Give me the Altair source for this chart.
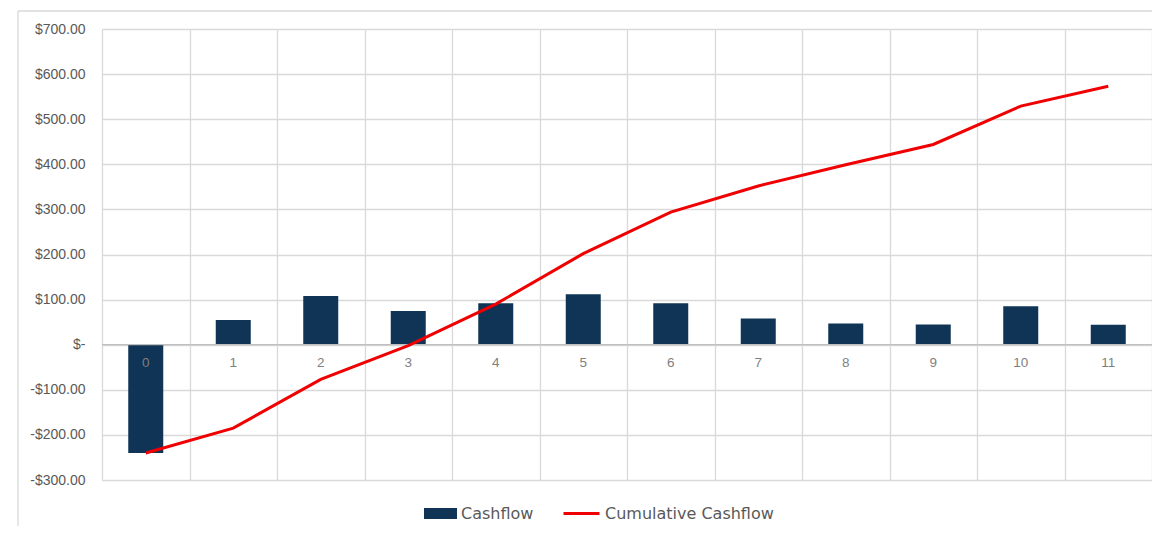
import altair as alt
import pandas as pd

periods = [0, 1, 2, 3, 4, 5, 6, 7, 8, 9, 10, 11]
cashflow = [-240, 55, 108, 75, 92, 112, 92, 58, 47, 45, 85, 44]
cumulative = [-240, -185, -77, -2, 90, 202, 294, 352, 399, 444, 529, 573]
y_ticks = [-300, -200, -100, 0, 100, 200, 300, 400, 500, 600, 700]
x_grid = [-0.5, 0.5, 1.5, 2.5, 3.5, 4.5, 5.5, 6.5, 7.5, 8.5, 9.5, 10.5, 11.5]

df = pd.DataFrame({"period": periods, "cashflow": cashflow, "cumulative": cumulative})
df["label"] = df["period"].astype(str)

GRID = "#d9d9d9"
BAR = "#0f3455"
RED = "#f00000"
TXT = "#595959"

xscale = alt.Scale(domain=[-0.5, 11.5], nice=False, zero=False)
yscale = alt.Scale(domain=[-300, 700], nice=False)

base = alt.Chart(df)

yexpr = ("datum.value == 0 ? '$-\u00a0\u00a0' : (datum.value < 0 ? '-$' + format(abs(datum.value), ',.2f')"
         " : '$' + format(datum.value, ',.2f'))")

bars = base.transform_calculate(
    x0="datum.period - 0.2", x1="datum.period + 0.2", s="'Cashflow'"
).mark_bar(stroke=None).encode(
    x=alt.X("x0:Q", scale=xscale,
            axis=alt.Axis(values=x_grid, labels=False, ticks=False, domain=False,
                          grid=True, gridColor=GRID, gridWidth=1.3, title=None)),
    x2="x1:Q",
    y=alt.Y("cashflow:Q", scale=yscale,
            axis=alt.Axis(values=y_ticks, labelExpr=yexpr, ticks=False, domain=False,
                          grid=True, gridColor=GRID, gridWidth=1.3, title=None,
                          labelFont="Liberation Sans", labelFontSize=14,
                          labelColor=TXT, labelPadding=17)),
    y2=alt.datum(0),
    fill=alt.Fill("s:N", scale=alt.Scale(domain=["Cashflow"], range=[BAR]),
                  legend=alt.Legend(orient="none", legendX=322, legendY=468, title=None,
                                    symbolType="M-1,-0.34H1V0.34H-1Z", symbolSize=1089,
                                    symbolStrokeWidth=0, labelOffset=4, labelLimit=400,
                                    labelFont="DejaVu Sans", labelFontSize=16,
                                    labelColor=TXT)),
)

zero = alt.Chart(pd.DataFrame({"z": [0]})).mark_rule(color="#bfbfbf", strokeWidth=1.3).encode(
    y=alt.Y("z:Q", scale=yscale)
)

labels = base.mark_text(dy=18, font="Liberation Sans", fontSize=13.5, color="#7f7f7f").encode(
    x=alt.X("period:Q", scale=xscale),
    y=alt.datum(0),
    text="label:N",
)

line = base.transform_calculate(s2="'Cumulative Cashflow'").mark_line(strokeWidth=3).encode(
    x=alt.X("period:Q", scale=xscale),
    y=alt.Y("cumulative:Q", scale=yscale),
    stroke=alt.Stroke("s2:N", scale=alt.Scale(domain=["Cumulative Cashflow"], range=[RED]),
                      legend=alt.Legend(orient="none", legendX=460, legendY=465, title=None,
                                        symbolType="stroke", symbolSize=1296,
                                        symbolStrokeWidth=3, labelOffset=4, labelLimit=400,
                                        labelFont="DejaVu Sans", labelFontSize=16,
                                        labelColor=TXT)),
)

frame_df = pd.DataFrame({"f": [0]})
frame_left = alt.Chart(frame_df).mark_rule(color=GRID, strokeWidth=1.3).encode(
    x=alt.value(-84), y=alt.value(-18), y2=alt.value(520)
)
frame_top = alt.Chart(frame_df).mark_rule(color=GRID, strokeWidth=1.3).encode(
    x=alt.value(-84), x2=alt.value(1100), y=alt.value(-18)
)

chart = alt.layer(bars, zero, labels, line, frame_left, frame_top).resolve_scale(
    fill="independent", stroke="independent"
).properties(
    width=1050, height=451,
    padding={"left": 94, "top": 21, "right": 0, "bottom": 46},
    autosize=alt.AutoSizeParams(type="none"),
).configure_view(stroke=None).configure(background="white")

chart.save("out.html", embed_options={"renderer": "svg", "actions": False})
